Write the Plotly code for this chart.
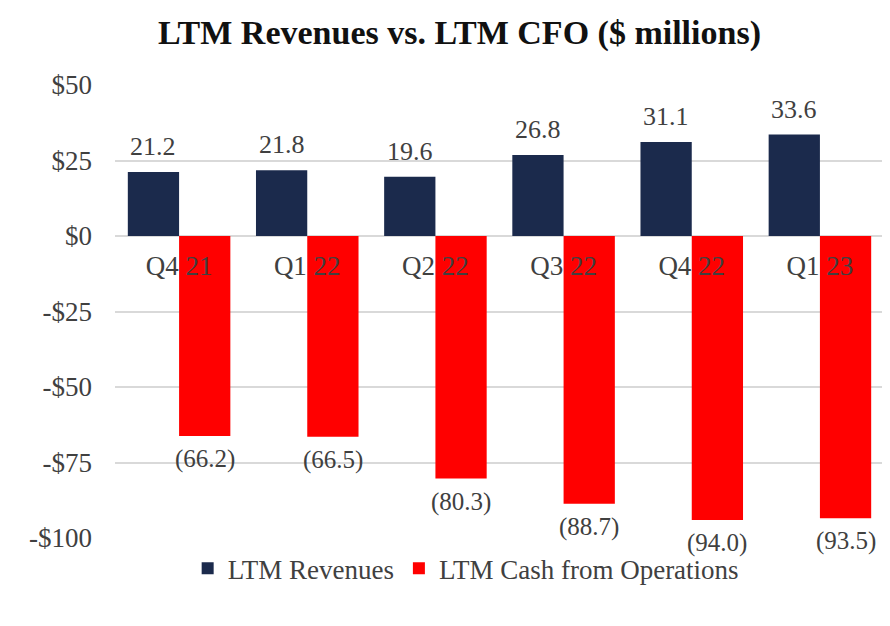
import plotly.graph_objects as go

quarters = ["Q4 21", "Q1 22", "Q2 22", "Q3 22", "Q4 22", "Q1 23"]
revenues = [21.2, 21.8, 19.6, 26.8, 31.1, 33.6]
cfo = [-66.2, -66.5, -80.3, -88.7, -94.0, -93.5]
rev_labels = ["21.2", "21.8", "19.6", "26.8", "31.1", "33.6"]
cfo_labels = ["(66.2)", "(66.5)", "(80.3)", "(88.7)", "(94.0)", "(93.5)"]
y_tickvals = [50, 25, 0, -25, -50, -75, -100]
y_ticktext = ["$50", "$25", "$0", "-$25", "-$50", "-$75", "-$100"]

FONT = "Liberation Serif, serif"
TXT = "#404040"

fig = go.Figure()
fig.add_trace(go.Bar(
    x=quarters, y=revenues, name="LTM Revenues",
    marker=dict(color="#1B2A4C", line=dict(width=0)),
))
fig.add_trace(go.Bar(
    x=quarters, y=cfo, name="LTM Cash from Operations",
    marker=dict(color="#FF0000", line=dict(width=0)),
))

W, H = 890, 626
ML, MR, MT, MB = 107, 14, 77, 96
plot_w = W - ML - MR
cat_px = plot_w / len(quarters)
bar_shift = cat_px * 0.8 / 4

annotations = []
for q, v, t in zip(quarters, revenues, rev_labels):
    annotations.append(dict(x=q, y=v, text=t, showarrow=False, xref="x", yref="y",
                            xshift=-bar_shift, yshift=9, yanchor="bottom",
                            font=dict(family=FONT, size=26, color=TXT)))
for q, v, t in zip(quarters, cfo, cfo_labels):
    annotations.append(dict(x=q, y=v, text=t, showarrow=False, xref="x", yref="y",
                            xshift=bar_shift, yshift=-7, yanchor="top",
                            font=dict(family=FONT, size=25, color=TXT)))

y0_frac = (0 - (-100)) / (50 - (-100))

fig.update_layout(
    width=W, height=H,
    margin=dict(l=ML, r=MR, t=MT, b=MB),
    paper_bgcolor="white", plot_bgcolor="white",
    barmode="group", bargap=0.2, bargroupgap=0.0,
    title=dict(text="<b>LTM Revenues vs. LTM CFO ($ millions)</b>",
               x=0.448, xref="paper", xanchor="center",
               y=0.962, yref="container", yanchor="middle",
               font=dict(family=FONT, size=34, color="#111111")),
    font=dict(family=FONT, color=TXT),
    legend=dict(orientation="h", x=0.456, xanchor="center",
                y=-0.068, yanchor="middle",
                font=dict(family=FONT, size=27, color=TXT),
                itemwidth=30, traceorder="normal"),
    xaxis=dict(anchor="free", position=y0_frac, showgrid=False,
               showline=False, zeroline=False, ticks="",
               ticklabelstandoff=11,
               tickfont=dict(family=FONT, size=27, color=TXT)),
    yaxis=dict(range=[-100, 50], tickvals=y_tickvals, ticktext=y_ticktext,
               showgrid=True, gridcolor="#D9D9D9", gridwidth=1.8,
               zeroline=True, zerolinecolor="#D9D9D9", zerolinewidth=1.8,
               showline=False, ticks="", ticklabelstandoff=22,
               tickfont=dict(family=FONT, size=27, color=TXT)),
    annotations=annotations,
)

fig.write_html("out.html")
